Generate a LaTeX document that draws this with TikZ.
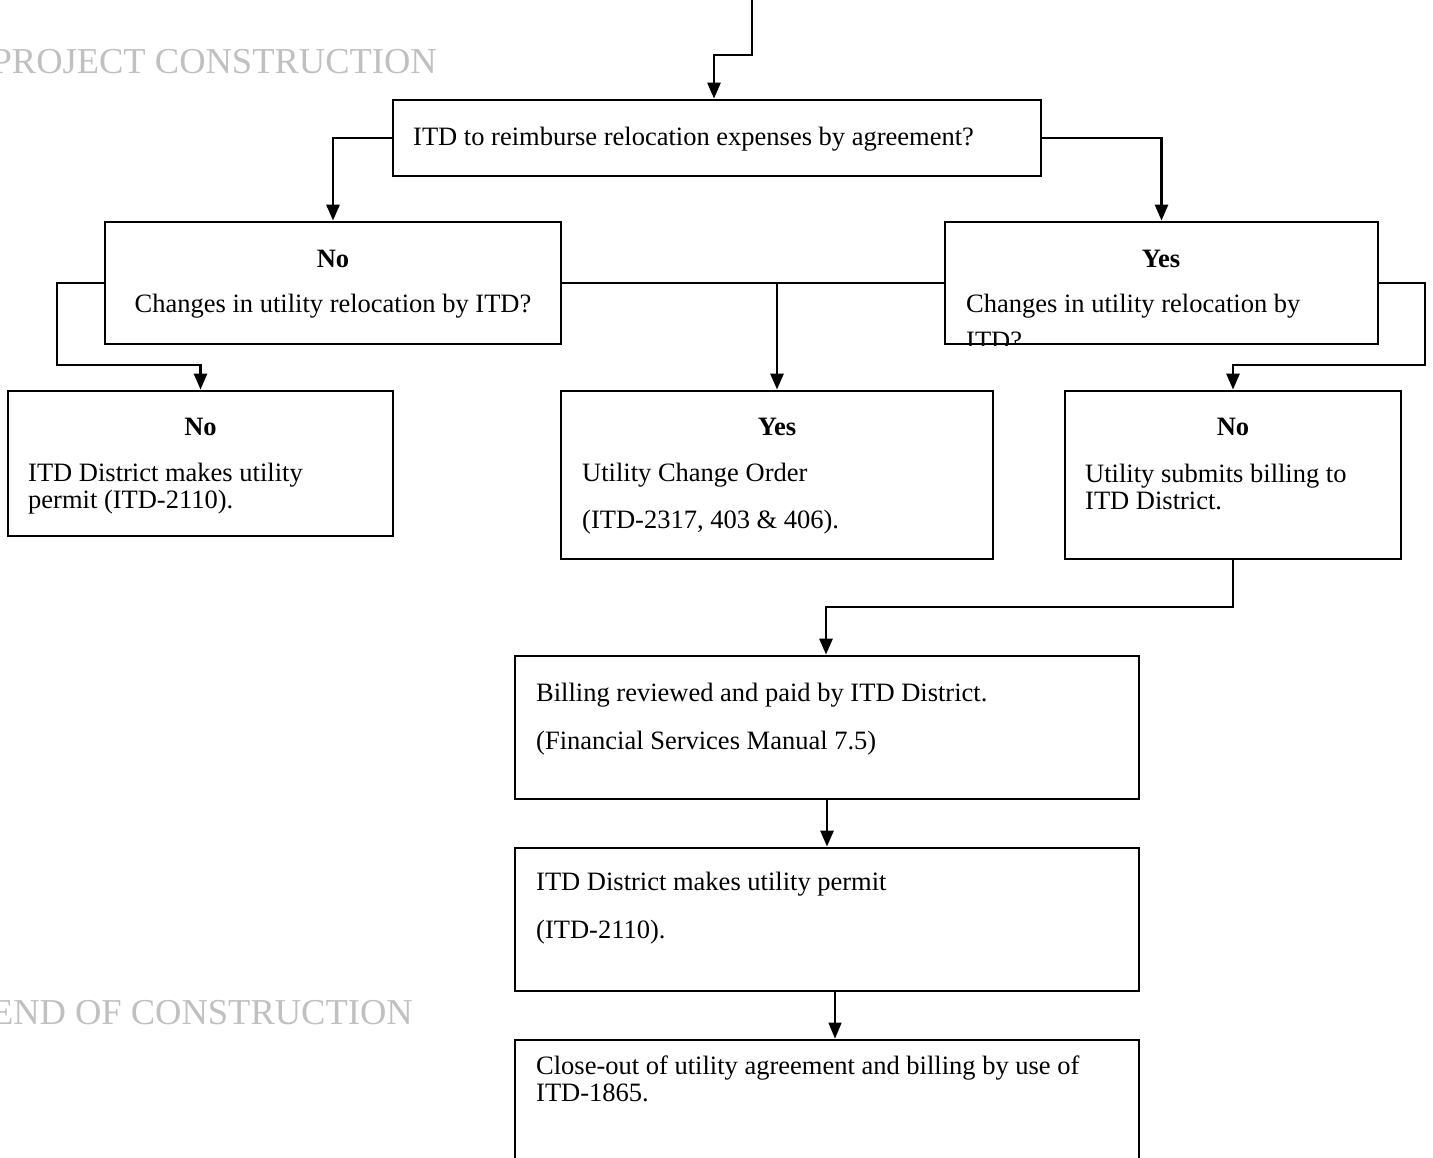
\documentclass[tikz,border=0pt]{standalone}
\usepackage{fontspec}
\setmainfont{Liberation Serif}
\usetikzlibrary{arrows.meta, positioning}
\definecolor{hdrgrey}{RGB}{192,192,192}
\tikzset{
  % Set arrowhead
  >={Triangle[length=16pt, width=13pt]},
  % Process box
  stepbox/.style={draw, line width=2.8pt, inner sep=0pt},
  % Text inside a box
  txt/.style={inner sep=0pt, anchor=base west, font=\fontsize{26.5}{30}\selectfont},
  % Yes / No heading
  head/.style={txt, anchor=base, font=\fontsize{26.5}{30}\selectfont\bfseries},
  % Grey phase title
  sectitle/.style={inner sep=0pt, anchor=base east, text=hdrgrey, font=\fontsize{36.5}{40}\selectfont},
  % Connectors
  link/.style={line width=2.8pt},
  flow/.style={link, ->},
}

\begin{document}
\begin{tikzpicture}[x=1pt, y=-1pt]
    \clip (0,0) rectangle (1433,1158);

    \node[sectitle] (start) at (437,74) {PROJECT CONSTRUCTION};
    \node[sectitle] (finish) at (413,1024) {END OF CONSTRUCTION};

    % boxes
    \node[stepbox, minimum width=648pt, minimum height=76pt] (reimb) at (717,138) {};
    \node[stepbox, minimum width=456pt, minimum height=122pt] (noreimb) at (333,283) {};
    \node[stepbox, minimum width=433pt, minimum height=122pt] (yesreimb) at (1161.5,283) {};
    \node[stepbox, minimum width=385pt, minimum height=145pt] (permitA) at (200.5,463.5) {};
    \node[stepbox, minimum width=432pt, minimum height=168pt] (change) at (777,475) {};
    \node[stepbox, minimum width=336pt, minimum height=168pt] (billing) at (1233,475) {};
    \node[stepbox, minimum width=624pt, minimum height=143pt] (paid) at (827,727.5) {};
    \node[stepbox, minimum width=624pt, minimum height=143pt] (permitB) at (827,919.5) {};
    \node[stepbox, minimum width=624pt, minimum height=140pt] (closeout) at (827,1110) {};

    % texts
    \node[txt] (reimbtxt) at (413,146) {ITD to reimburse relocation expenses by agreement?};

    \node[head] (notag) at (333,268) {No};
    \node[txt, anchor=base] (notxt) at (333,313) {Changes in utility relocation by ITD?};

    \node[head] (yestag) at (1161,268) {Yes};
    \node[txt] (yestxt) at (966,313) {Changes in utility relocation by};
    \begin{scope}
      \clip (yesreimb.south west) rectangle (yesreimb.north east);
      \node[txt] (yestxtb) at (966,350) {ITD?};
    \end{scope}

    \node[head] (permitAtag) at (200.5,435) {No};
    \node[txt] (permitAa) at (28,481) {ITD District makes utility};
    \node[txt] (permitAb) at (28,508) {permit (ITD-2110).};

    \node[head] (changetag) at (777,435) {Yes};
    \node[txt] (changea) at (582,481) {Utility Change Order};
    \node[txt] (changeb) at (582,528) {(ITD-2317, 403 \& 406).};

    \node[head] (billingtag) at (1233,435) {No};
    \node[txt] (billinga) at (1085,482) {Utility submits billing to};
    \node[txt] (billingb) at (1085,509) {ITD District.};

    \node[txt] (paida) at (536,701) {Billing reviewed and paid by ITD District.};
    \node[txt] (paidb) at (536,749) {(Financial Services Manual 7.5)};

    \node[txt] (permitBa) at (536,890) {ITD District makes utility permit};
    \node[txt] (permitBb) at (536,938) {(ITD-2110).};

    \node[txt] (closeouta) at (536,1074) {Close-out of utility agreement and billing by use of};
    \node[txt] (closeoutb) at (536,1101) {ITD-1865.};

    % connectors
    \coordinate (entry) at (752,-5);
    \coordinate (jog) at (714,55);
    \coordinate (lbend) at (57,365);
    \coordinate (rbend) at (1425,365);
    \coordinate (mbend) at (826,607);

    \draw[flow] (entry) |- (jog) -- (jog |- reimb.north);
    \draw[flow] (reimb.west) -| (noreimb.north);
    \draw[flow] (reimb.east) -| (yesreimb.north);
    \draw[flow] (noreimb.west) -| (lbend) -| (permitA.north);
    \draw[link] (noreimb.east) -- (yesreimb.west);
    \draw[flow] (noreimb.east -| change.north) -- (change.north);
    \draw[flow] (yesreimb.east) -| (rbend) -| (billing.north);
    \draw[flow] (billing.south) |- (mbend) -- (mbend |- paid.north);
    \draw[flow] (paid.south) -- (permitB.north);
    \draw[flow, line width=1.6pt] ([xshift=8pt]permitB.south) -- ([xshift=8pt]closeout.north);
\end{tikzpicture}
\end{document}
